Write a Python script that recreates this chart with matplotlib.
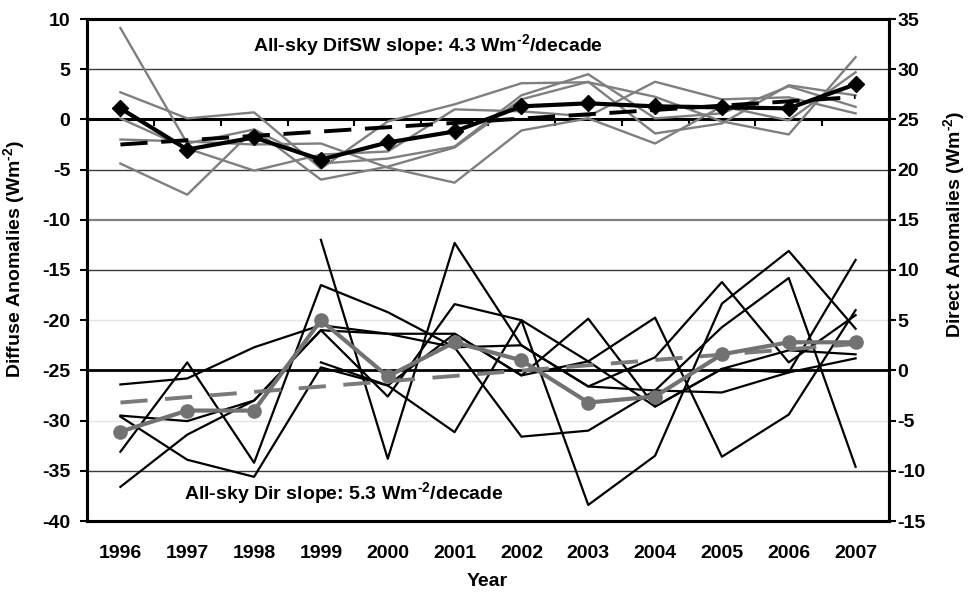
import numpy as np
import matplotlib
matplotlib.use("Agg")
import matplotlib.pyplot as plt

plt.rcParams['font.family'] = ['Liberation Sans', 'DejaVu Sans']
plt.rcParams['font.weight'] = 'bold'
plt.rcParams['axes.unicode_minus'] = False
plt.rcParams['mathtext.fontset'] = 'custom'
plt.rcParams['mathtext.rm'] = 'Liberation Sans:bold'
plt.rcParams['mathtext.bf'] = 'Liberation Sans:bold'

years = ['1996', '1997', '1998', '1999', '2000', '2001',
         '2002', '2003', '2004', '2005', '2006', '2007']

# diffuse SW anomalies per station (left axis)
dif_stations = [
    [9.1, -2.4, -1.0, -4.4, -3.9, -2.7, 2.4, 4.5, 0.1, 0.6, 3.3, 1.25],
    [2.7, 0.1, 0.7, -4.9, -0.2, 1.5, 3.6, 3.7, 2.25, -0.2, -1.5, 6.2],
    [0.1, -2.9, -5.1, -3.5, -3.2, 1.0, 0.8, 0.3, 3.75, 2.0, 2.2, 0.6],
    [-2.0, -2.2, -2.5, -2.4, -4.8, -6.3, -1.1, 0.1, -2.4, 1.3, -0.1, 4.7],
    [-4.4, -7.5, -1.0, -6.0, -4.7, -2.8, 2.0, 3.75, -1.4, -0.4, 3.4, 2.4],
]
dif_mean = [1.1, -3.0, -1.8, -4.0, -2.3, -1.2, 1.3, 1.6, 1.3, 1.2, 1.1, 3.5]
dif_start, dif_slope = -2.5, 4.3  # Wm-2 per decade

# direct SW anomalies per station (right axis)
nan = np.nan
dir_stations = [
    [-1.4, -0.8, 2.3, 4.5, 3.65, 3.65, -0.5, 5.15, -3.6, 0.15, -0.2, 11.0],
    [-4.5, -5.05, -3.0, 4.0, 3.65, 2.3, -6.6, -6.0, -2.0, -2.2, -0.2, 1.2],
    [-4.6, -8.9, -10.6, 0.3, -1.5, -6.15, 5.0, -13.4, -8.5, 6.65, 11.9, 4.15],
    [-8.1, 0.8, -9.2, 8.5, 5.8, 2.3, 2.5, -1.6, 1.3, 8.8, 0.8, 5.5],
    [-11.6, -6.4, -3.0, 4.0, -2.6, 6.6, 5.0, 0.9, 5.25, -8.6, -4.4, 6.0],
    [nan, nan, nan, 13.0, -8.8, 12.7, 2.5, -1.6, -2.0, 4.3, 9.2, -9.6],
    [nan, nan, nan, 0.8, -1.5, 3.65, -0.5, 0.9, -3.6, 0.15, 2.0, 1.6],
]
dir_mean = [-6.1, -4.0, -4.0, 5.0, -0.6, 2.8, 1.0, -3.2, -2.6, 1.6, 2.8, 2.8]
dir_start, dir_slope = -3.2, 5.3

x = np.arange(len(years))
unit = r'Wm$^{\text{-2}}$'

fig = plt.figure(figsize=(9.69, 5.92), dpi=100)
ax = fig.add_axes([87 / 969, 1 - 521 / 592, 802 / 969, 502 / 592])
ax2 = ax.twinx()

ax.set_xlim(-0.5, 11.5)
ax.set_ylim(-40, 10)
ax2.set_ylim(-15, 35)

# horizontal grid
for g in [5, -5, -15, -35]:
    ax.axhline(g, color='#3c3c3c', lw=1, zorder=0)
ax.axhline(-10, color='#808080', lw=1.6, zorder=0)
for g in [-20, -30]:
    ax.axhline(g, color='#e4e4e4', lw=1, zorder=0)

# category axis at zero with boundary ticks
ax.axhline(0, color='black', lw=2.2, zorder=1)
ax.vlines(np.arange(0.5, 11.5, 1.0), -0.7, 0, color='black', lw=1.5, zorder=1)
ax2.axhline(0, color='black', lw=2.0, zorder=1)

# diffuse group
for s in dif_stations:
    ax.plot(x, s, color='#7f7f7f', lw=1.7, zorder=2)
dif_trend = dif_start + dif_slope / 10 * x
ax.plot(x, dif_trend, color='black', lw=2.8, linestyle=(0, (7, 3.5)), zorder=3)
ax.plot(x, dif_mean, color='black', lw=3, marker='D', ms=8, zorder=4)

# direct group
for s in dir_stations:
    ax2.plot(x, s, color='black', lw=1.6, zorder=2)
dir_trend = dir_start + dir_slope / 10 * x
ax2.plot(x, dir_trend, color='#7a7a7a', lw=2.8, linestyle=(0, (7, 4.5)), zorder=3)
ax2.plot(x, dir_mean, color='#727272', lw=3, marker='o', ms=9.5, zorder=4)

# ticks
ax.set_xticks(x)
ax.set_xticklabels(years, fontsize=14, fontweight='bold')
ax.tick_params(axis='x', length=0, pad=17)
ax.set_yticks(np.arange(-40, 11, 5))
ax.tick_params(axis='y', direction='out', length=5, width=1.5, pad=7, labelsize=14)
ax2.set_yticks(np.arange(-15, 36, 5))
ax2.tick_params(axis='y', direction='out', length=5, width=1.5, pad=1, labelsize=14)
for lab in ax.get_yticklabels() + ax2.get_yticklabels():
    lab.set_fontweight('bold')

for a in (ax, ax2):
    for sp in a.spines.values():
        sp.set_linewidth(2.2)
        sp.set_color('black')

ax.text(4.6, 7.3, 'All-sky DifSW slope: 4.3 ' + unit + '/decade', fontsize=14,
        fontweight='bold', ha='center', va='center', zorder=5)
ax.text(3.35, -37.3, 'All-sky Dir slope: 5.3 ' + unit + '/decade', fontsize=14,
        fontweight='bold', ha='center', va='center', zorder=5)

fig.text(15 / 969, 1 - 259 / 592, 'Diffuse Anomalies (' + unit + ')', rotation=90,
         fontsize=14, fontweight='bold', ha='center', va='center')
fig.text(955 / 969, 1 - 224 / 592, 'Direct Anomalies (' + unit + ')', rotation=90,
         fontsize=14, fontweight='bold', ha='center', va='center')
fig.text(487 / 969, 1 - 582 / 592, 'Year', fontsize=14, fontweight='bold',
         ha='center', va='center')

fig.savefig('out.png', dpi=100)
